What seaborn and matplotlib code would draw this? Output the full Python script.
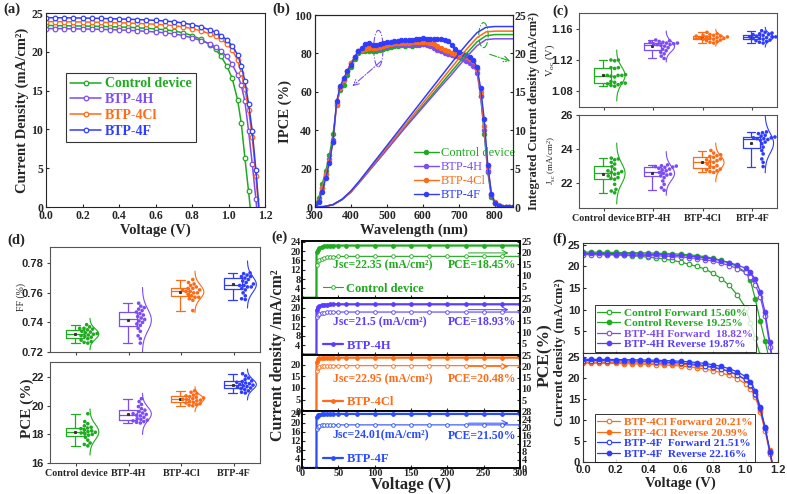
import numpy as np
import pandas as pd
import matplotlib
matplotlib.use('Agg')
import matplotlib.pyplot as plt
import seaborn as sns
from matplotlib.patches import Ellipse
import warnings
warnings.filterwarnings('ignore')

# ---------------- data ----------------
groups = ['Control device', 'BTP-4H', 'BTP-4Cl', 'BTP-4F']

# (a) J-V curves
a_volt = [0.00, 0.05, 0.10, 0.15, 0.20, 0.25, 0.30, 0.35, 0.40, 0.45, 0.50, 0.55,
          0.60, 0.65, 0.70, 0.75, 0.80, 0.85, 0.90, 0.93, 0.96, 0.99, 1.02, 1.05,
          1.07, 1.09, 1.11, 1.13, 1.15, 1.17]
a_j_ctrl = [23.40, 23.38, 23.36, 23.34, 23.32, 23.30, 23.27, 23.24, 23.20, 23.16, 23.10, 23.03,
            22.95, 22.85, 22.70, 22.45, 22.10, 21.60, 20.90, 20.30, 19.40, 18.20, 16.60, 13.80,
            10.80, 6.30, 2.00, -2.5, -7.0, -12.0]
a_j_4h = [23.00, 22.99, 22.98, 22.96, 22.94, 22.92, 22.89, 22.86, 22.82, 22.77, 22.71, 22.64,
          22.55, 22.45, 22.30, 22.10, 21.80, 21.45, 21.00, 20.60, 20.10, 19.40, 18.40, 17.00,
          15.70, 13.60, 9.80, 5.60, 1.00, -4.0]
a_j_4cl = [23.90, 23.89, 23.88, 23.86, 23.84, 23.82, 23.80, 23.77, 23.74, 23.70, 23.66, 23.61,
           23.55, 23.47, 23.37, 23.22, 23.00, 22.70, 22.30, 22.00, 21.60, 21.05, 20.25, 18.90,
           17.30, 15.20, 12.50, 9.00, 4.00, -1.5]
a_j_4f = [24.40, 24.39, 24.38, 24.37, 24.35, 24.33, 24.30, 24.27, 24.24, 24.20, 24.16, 24.11,
          24.05, 23.97, 23.87, 23.72, 23.50, 23.20, 22.80, 22.50, 22.10, 21.55, 20.80, 19.60,
          18.20, 16.20, 13.30, 9.80, 4.80, -1.0]

# (b) IPCE and integrated current
wl = [300, 310, 320, 330, 340, 350, 360, 370, 380, 390, 400, 410, 420, 430, 440, 450, 460, 470,
      480, 490, 500, 510, 520, 530, 540, 550, 560, 570, 580, 590, 600, 610, 620, 630, 640, 650,
      660, 670, 680, 690, 700, 710, 720, 730, 740, 750, 760, 770, 780, 790, 800, 810, 820, 830,
      840, 850]
ipce_ctrl = [1.0, 4.5, 12, 19, 27, 38, 53, 61, 63.5, 69, 73, 77, 80, 81, 81, 81.5, 81, 81.5,
             82, 82.5, 83, 83.5, 84, 84, 84.5, 84, 84.5, 84, 84.5, 84.5, 85, 85, 84.5, 84, 83, 82,
             81, 80, 79.5, 79, 78.5, 78, 77.5, 77, 76, 72, 58, 38, 18, 5, 2, 0.5, 0, 0,
             0, 0]
ipce_4h = [0.5, 3, 10, 17, 25, 35, 54, 62, 66, 71, 75, 78, 81, 82.5, 83, 83, 82.5, 82.5,
           83, 83.5, 84, 84.5, 85, 85, 85, 85, 85, 85, 85, 85, 85, 84.5, 84, 83, 82, 81,
           80, 79.5, 79, 78.5, 78, 77, 76, 75, 73.5, 70, 58, 40, 19, 6, 2, 0.5, 0, 0,
           0, 0]
ipce_4cl = [0.5, 3, 10, 17, 24, 34, 53, 62, 66, 71, 75, 78, 81, 82, 82.5, 83, 83, 83,
            83.5, 84, 84.5, 85, 85.5, 85.5, 85.5, 85.5, 85.5, 86, 86, 86, 86, 86, 85.5, 85, 84, 83,
            82, 81, 80, 79.5, 79.5, 79, 78, 77, 76, 72, 60, 42, 21, 7, 2.5, 1, 0, 0,
            0, 0]
ipce_4f = [0.5, 2.5, 8, 15, 23, 34, 55, 63, 67, 71, 74, 78, 81, 83, 85, 85.5, 84.5, 84.5,
           85, 85.5, 86, 86, 86.5, 86.5, 87, 87, 87, 87, 87.5, 87.5, 88, 87.5, 87.5, 87.5, 87.5, 87.5,
           87, 86.5, 84.5, 82.5, 80.5, 79.5, 79, 78, 76.5, 73, 62, 46, 22, 7, 2, 0.5, 0, 0,
           0, 0]
wl_int = [300, 325, 350, 375, 400, 425, 450, 475, 500, 525, 550, 575, 600, 625, 650, 675,
          700, 725, 750, 775, 800, 825, 850]
int_ctrl = [0, 0.05, 0.3, 0.95, 1.95, 3.3, 4.7, 6.1, 7.5, 8.95, 10.4, 11.8, 13.2, 14.6, 16.0, 17.4,
            18.8, 20.2, 21.5, 22.3, 22.45, 22.45, 22.45]
int_4h = [0, 0.05, 0.3, 0.95, 1.95, 3.3, 4.7, 6.1, 7.5, 8.9, 10.3, 11.65, 13.0, 14.35, 15.7, 17.0,
          18.4, 19.75, 21.0, 21.8, 21.9, 21.9, 21.9]
int_4cl = [0, 0.05, 0.3, 1.0, 2.0, 3.4, 4.85, 6.3, 7.75, 9.2, 10.65, 12.1, 13.55, 15.0, 16.45, 17.9,
           19.35, 20.75, 22.05, 22.8, 22.9, 22.9, 22.9]
int_4f = [0, 0.05, 0.3, 1.0, 2.1, 3.5, 5.0, 6.5, 8.0, 9.5, 11.0, 12.5, 14.0, 15.5, 17.0, 18.5,
          20.0, 21.4, 22.7, 23.4, 23.5, 23.5, 23.5]

# (c) Voc / Jsc statistics
voc = {
    'Control device': [1.120, 1.120, 1.119, 1.110, 1.110, 1.109, 1.101, 1.100, 1.100, 1.099,
                       1.100, 1.098, 1.092, 1.090, 1.090, 1.089, 1.091, 1.088, 1.086, 1.087],
    'BTP-4H': [1.146, 1.145, 1.144, 1.143, 1.143, 1.142, 1.142, 1.141, 1.141, 1.140,
               1.140, 1.139, 1.138, 1.136, 1.134, 1.132, 1.130, 1.128, 1.125, 1.122],
    'BTP-4Cl': [1.156, 1.154, 1.153, 1.152, 1.152, 1.151, 1.151, 1.150, 1.150, 1.149,
                1.149, 1.148, 1.148, 1.147, 1.147, 1.146, 1.145, 1.144, 1.143, 1.142],
    'BTP-4F': [1.158, 1.156, 1.155, 1.154, 1.153, 1.153, 1.152, 1.151, 1.150, 1.150,
               1.150, 1.149, 1.148, 1.148, 1.147, 1.146, 1.145, 1.144, 1.143, 1.142],
}
jsc = {
    'Control device': [23.45, 23.40, 23.35, 23.20, 23.10, 22.95, 22.80, 22.70, 22.65, 22.60,
                       22.55, 22.50, 22.40, 22.30, 22.25, 22.20, 21.90, 21.60, 21.50, 21.40],
    'BTP-4H': [23.05, 23.00, 22.98, 22.95, 22.92, 22.90, 22.85, 22.80, 22.75, 22.70,
               22.60, 22.55, 22.50, 22.45, 22.40, 22.30, 22.10, 21.90, 21.70, 21.55],
    'BTP-4Cl': [23.90, 23.75, 23.65, 23.60, 23.55, 23.50, 23.40, 23.35, 23.30, 23.25,
                23.20, 23.10, 23.00, 22.95, 22.90, 22.80, 22.75, 22.70, 22.65, 22.60],
    'BTP-4F': [25.00, 24.95, 24.90, 24.80, 24.75, 24.70, 24.65, 24.65, 24.60, 24.60,
               24.55, 24.50, 24.40, 24.30, 24.10, 23.90, 23.70, 23.40, 23.20, 22.95],
}
# (d) FF / PCE statistics
ff = {
    'Control device': [0.7385, 0.737, 0.736, 0.736, 0.7355, 0.735, 0.734, 0.7335, 0.733, 0.7325,
                       0.732, 0.7315, 0.731, 0.7305, 0.730, 0.729, 0.728, 0.727, 0.7265, 0.726],
    'BTP-4H': [0.753, 0.751, 0.750, 0.749, 0.748, 0.747, 0.746, 0.745, 0.744, 0.743,
               0.742, 0.741, 0.740, 0.739, 0.738, 0.736, 0.734, 0.731, 0.729, 0.726],
    'BTP-4Cl': [0.769, 0.767, 0.766, 0.765, 0.764, 0.763, 0.763, 0.762, 0.762, 0.761,
                0.761, 0.760, 0.760, 0.759, 0.758, 0.757, 0.757, 0.756, 0.755, 0.748],
    'BTP-4F': [0.7735, 0.773, 0.772, 0.771, 0.771, 0.770, 0.769, 0.768, 0.767, 0.766,
               0.765, 0.765, 0.764, 0.764, 0.763, 0.762, 0.760, 0.758, 0.756, 0.7555],
}
pce = {
    'Control device': [19.45, 18.90, 18.75, 18.60, 18.50, 18.45, 18.40, 18.30, 18.25, 18.20,
                       18.15, 18.10, 18.05, 18.00, 17.95, 17.80, 17.60, 17.40, 17.30, 17.20],
    'BTP-4H': [20.50, 20.30, 20.10, 19.95, 19.80, 19.70, 19.60, 19.50, 19.45, 19.40,
               19.35, 19.30, 19.20, 19.10, 19.05, 19.00, 18.95, 18.90, 18.85, 18.80],
    'BTP-4Cl': [21.05, 20.95, 20.85, 20.75, 20.70, 20.65, 20.60, 20.55, 20.50, 20.45,
                20.45, 20.40, 20.35, 20.30, 20.25, 20.20, 20.15, 20.10, 20.05, 20.00],
    'BTP-4F': [22.25, 22.10, 21.95, 21.85, 21.75, 21.70, 21.65, 21.60, 21.55, 21.50,
               21.45, 21.40, 21.35, 21.30, 21.25, 21.20, 21.15, 21.05, 20.95, 20.90],
}

# (e) stability traces
e_time = [0, 19.9, 20, 22, 24, 27, 30, 34, 38, 43, 50, 60, 75, 100, 125, 150, 175, 200, 225,
          250, 275, 300]
e_jsc_ctrl = [0, 0, 19.5, 20.6, 21.3, 21.8, 22.1, 22.25, 22.3, 22.35, 22.35, 22.35, 22.35,
              22.35, 22.35, 22.35, 22.35, 22.35, 22.35, 22.35, 22.35, 22.35]
e_pce_ctrl = [0, 0, 14.6, 16.2, 16.9, 17.4, 17.8, 18.0, 18.2, 18.3, 18.4, 18.45, 18.45,
              18.45, 18.45, 18.45, 18.45, 18.45, 18.45, 18.45, 18.45, 18.45]
e_jsc_4h = [0, 0, 19.0, 20.2, 20.8, 21.1, 21.3, 21.4, 21.45, 21.5, 21.5, 21.5, 21.5,
            21.5, 21.5, 21.5, 21.5, 21.5, 21.5, 21.5, 21.5, 21.5]
e_pce_4h = [0, 0, 16.5, 17.6, 18.1, 18.4, 18.6, 18.75, 18.85, 18.9, 18.93, 18.93, 18.93,
            18.93, 18.93, 18.93, 18.93, 18.93, 18.93, 18.93, 18.93, 18.93]
e_jsc_4cl = [0, 0, 21.0, 22.2, 22.6, 22.8, 22.9, 22.95, 22.95, 22.95, 22.95, 22.95, 22.95,
             22.95, 22.95, 22.95, 22.95, 22.95, 22.95, 22.95, 22.95, 22.95]
e_pce_4cl = [0, 0, 18.0, 19.4, 19.9, 20.2, 20.35, 20.45, 20.48, 20.48, 20.48, 20.48, 20.48,
             20.48, 20.48, 20.48, 20.48, 20.48, 20.48, 20.48, 20.48, 20.48]
e_jsc_4f = [0, 0, 22.5, 23.4, 23.7, 23.85, 23.95, 24.0, 24.01, 24.01, 24.01, 24.01, 24.01,
            24.01, 24.01, 24.01, 24.01, 24.01, 24.01, 24.01, 24.01, 24.01]
e_pce_4f = [0, 0, 19.3, 20.5, 21.0, 21.2, 21.35, 21.45, 21.5, 21.5, 21.5, 21.5, 21.5,
            21.5, 21.5, 21.5, 21.5, 21.5, 21.5, 21.5, 21.5, 21.5]
e_jsc_text = ['Jsc=22.35 (mA/cm²)', 'Jsc=21.5 (mA/cm²)', 'Jsc=22.95 (mA/cm²)', 'Jsc=24.01(mA/cm²)']
e_pce_text = ['PCE=18.45%', 'PCE=18.93%', 'PCE=20.48%', 'PCE=21.50%']

# (f) forward / reverse scans
f_volt = [0.00, 0.05, 0.10, 0.15, 0.20, 0.25, 0.30, 0.35, 0.40, 0.45, 0.50, 0.55, 0.60, 0.65,
          0.70, 0.75, 0.80, 0.85, 0.90, 0.95, 1.00, 1.03, 1.06, 1.09, 1.12, 1.15, 1.18]
f_ctrl_fwd = [23.0, 22.93, 22.85, 22.78, 22.70, 22.58, 22.45, 22.30, 22.15, 21.95, 21.70, 21.40,
              21.00, 20.50, 20.00, 19.40, 18.40, 17.20, 15.60, 13.40, 10.50, 7.00, 3.50, -0.5,
              -5.0, -10.0, -15.0]
f_ctrl_rev = [23.30, 23.28, 23.26, 23.24, 23.22, 23.20, 23.17, 23.14, 23.10, 23.05, 23.00, 22.92,
              22.82, 22.70, 22.50, 22.25, 21.90, 21.40, 20.80, 19.90, 18.70, 16.80, 12.50, 7.50,
              2.80, -2.0, -7.0]
f_4h_fwd = [22.70, 22.69, 22.68, 22.66, 22.64, 22.61, 22.58, 22.54, 22.50, 22.44, 22.37, 22.28,
            22.17, 22.02, 21.82, 21.55, 21.20, 20.75, 20.20, 19.50, 18.60, 17.50, 15.80, 13.00,
            8.50, 1.50, -5.0]
f_4h_rev = [23.00, 22.99, 22.98, 22.96, 22.94, 22.92, 22.89, 22.85, 22.81, 22.76, 22.70, 22.62,
            22.52, 22.39, 22.22, 22.00, 21.70, 21.30, 20.85, 20.30, 19.60, 18.70, 17.00, 14.20,
            9.50, 2.50, -5.0]
f_4cl_fwd = [23.60, 23.58, 23.56, 23.53, 23.50, 23.46, 23.42, 23.37, 23.31, 23.24, 23.15, 23.04,
             22.90, 22.72, 22.48, 22.18, 21.80, 21.30, 20.65, 19.80, 18.70, 17.50, 15.60, 12.00,
             7.50, 2.00, -4.0]
f_4cl_rev = [23.80, 23.79, 23.78, 23.76, 23.74, 23.71, 23.68, 23.64, 23.60, 23.55, 23.48, 23.40,
             23.30, 23.17, 23.00, 22.78, 22.50, 22.10, 21.55, 20.70, 19.50, 18.20, 16.00, 12.50,
             8.00, 2.80, -3.0]
f_4f_fwd = [24.20, 24.19, 24.18, 24.16, 24.14, 24.11, 24.08, 24.04, 23.99, 23.93, 23.85, 23.75,
            23.62, 23.46, 23.26, 23.00, 22.65, 22.20, 21.60, 20.80, 19.70, 18.40, 16.30, 12.80,
            8.20, 2.50, -3.5]
f_4f_rev = [24.50, 24.49, 24.48, 24.46, 24.44, 24.42, 24.39, 24.36, 24.32, 24.27, 24.21, 24.13,
            24.03, 23.90, 23.73, 23.50, 23.20, 22.80, 22.25, 21.50, 20.40, 19.10, 17.00, 13.20,
            8.40, 2.50, -3.5]
f_top_labels = ['Control Forward 15.60%', 'Control Reverse 19.25%',
                'BTP-4H Forward  18.82%', 'BTP-4H Reverse 19.87%']
f_bot_labels = ['BTP-4Cl Forward 20.21%', 'BTP-4Cl Reverse 20.99%',
                'BTP-4F  Forward 21.51%', 'BTP-4F  Reverse 22.16%']

# ---------------- style ----------------
GREEN = '#1faa1f'
PURPLE = '#7d4cf5'
ORANGE = '#ff6a16'
BLUE = '#2f3cff'
colors = [GREEN, PURPLE, ORANGE, BLUE]
SERIF = 'Liberation Serif'
SANS = 'Liberation Sans'

sns.set_style('ticks')
plt.rcParams['font.family'] = [SERIF, 'DejaVu Serif']
plt.rcParams['mathtext.fontset'] = 'custom'
plt.rcParams['mathtext.rm'] = SERIF
plt.rcParams['mathtext.it'] = SERIF + ':italic'
plt.rcParams['mathtext.bf'] = SERIF + ':bold'
plt.rcParams['mathtext.default'] = 'regular'
plt.rcParams['xtick.direction'] = 'in'
plt.rcParams['ytick.direction'] = 'in'
plt.rcParams['xtick.major.size'] = 2.5
plt.rcParams['ytick.major.size'] = 2.5

W, H = 787, 494
fig = plt.figure(figsize=(W / 100, H / 100), dpi=100)


def px_axes(x0, y0, x1, y1):
    return fig.add_axes([x0 / W, 1 - y1 / H, (x1 - x0) / W, (y1 - y0) / H])


def ticks(ax, xt=None, xl=None, yt=None, yl=None, family=SERIF, size=8, weight='bold'):
    if xt is not None:
        ax.set_xticks(xt, xl if xl is not None else [str(v) for v in xt],
                      fontfamily=family, fontsize=size, fontweight=weight)
    if yt is not None:
        ax.set_yticks(yt, yl if yl is not None else [str(v) for v in yt],
                      fontfamily=family, fontsize=size, fontweight=weight)
    ax.tick_params(pad=2)


def fig_label(x, y, s, size, weight='bold', rot=0, ha='center'):
    fig.text(x / W, 1 - y / H, s, fontsize=size, fontweight=weight, family=SERIF,
             rotation=rot, ha=ha, va='center')


def panel_label(x, y, s):
    fig_label(x, y, s, 10.5, ha='left')


# ---------------- (a) ----------------
ax = px_axes(46, 13, 265, 207)
for name, j, c in zip(groups, [a_j_ctrl, a_j_4h, a_j_4cl, a_j_4f], colors):
    sns.lineplot(x=a_volt, y=j, ax=ax, color=c, lw=1.1, marker='o', ms=3.3, mec=c,
                 mfc='white', mew=0.9, label=name, sort=False)
ax.set_xlim(0, 1.2)
ax.set_ylim(0, 25)
ticks(ax, [0, 0.2, 0.4, 0.6, 0.8, 1.0, 1.2], ['0.0', '0.2', '0.4', '0.6', '0.8', '1.0', '1.2'],
      [0, 5, 10, 15, 20, 25], size=8.5)
ax.set_xlabel('Voltage (V)', fontsize=10.5, fontweight='bold', labelpad=1)
ax.set_ylabel('Current Density (mA/cm²)', fontsize=10.5, fontweight='bold', labelpad=2)
leg = ax.legend(loc='upper left', bbox_to_anchor=(0.06, 0.725), frameon=True, fancybox=False,
                edgecolor='black', prop={'family': SERIF, 'weight': 'bold', 'size': 10},
                handlelength=2.2, borderpad=0.3, labelspacing=0.2, handletextpad=0.3)
leg.get_frame().set_linewidth(0.8)
for t, c in zip(leg.get_texts(), colors):
    t.set_color(c)
panel_label(3, 9, '(a)')

# ---------------- (b) ----------------
ax = px_axes(315, 15, 513, 207)
for name, y, c in zip(groups, [ipce_ctrl, ipce_4h, ipce_4cl, ipce_4f], colors):
    sns.lineplot(x=wl, y=y, ax=ax, color=c, lw=1.0, marker='o', ms=3.2, mec=c, mfc=c,
                 label=name, sort=False)
ax.set_xlim(300, 850)
ax.set_ylim(0, 100)
ticks(ax, [300, 400, 500, 600, 700, 800], None, [0, 20, 40, 60, 80, 100], size=8.5)
ax.set_xlabel('Wavelength (nm)', fontsize=10.5, fontweight='bold', labelpad=1)
ax.set_ylabel('IPCE (%)', fontsize=10.5, fontweight='bold', labelpad=2)
leg = ax.legend(loc='upper left', bbox_to_anchor=(0.46, 0.35), frameon=False,
                prop={'family': SERIF, 'size': 9}, handlelength=2.0, borderpad=0.1,
                labelspacing=0.15, handletextpad=0.2)
for t, c in zip(leg.get_texts(), colors):
    t.set_color(c)
ax.add_patch(Ellipse((476, 82.5), 26, 19, fill=False, ls='-.', ec=PURPLE, lw=0.8))
ax.annotate('', xy=(398, 62), xytext=(490, 77),
            arrowprops=dict(arrowstyle='->', ls='-.', color=PURPLE, lw=0.8))
ax.add_patch(Ellipse((768, 89.5), 26, 13, fill=False, ls='-.', ec=GREEN, lw=0.8))
ax.annotate('', xy=(850, 75.5), xytext=(778, 80),
            arrowprops=dict(arrowstyle='->', ls='-.', color=GREEN, lw=0.8))
ax2 = ax.twinx()
for y, c in zip([int_ctrl, int_4h, int_4cl, int_4f], colors):
    sns.lineplot(x=wl_int, y=y, ax=ax2, color=c, lw=1.1, sort=False)
ax2.set_ylim(0, 25)
ticks(ax2, None, None, [0, 5, 10, 15, 20, 25], size=8.5)
ax2.tick_params(pad=1)
ax2.set_ylabel('Integrated Current density (mA/cm²)', fontsize=9, fontweight='bold',
               labelpad=1)
panel_label(272, 9, '(b)')

# ---------------- box panels (c), (d) ----------------
def box_panel(ax, stats, ylim, yt, yl, show_labels):
    rows = []
    for i, g in enumerate(groups):
        for v in stats[g]:
            rows.append((g, i, v))
    df = pd.DataFrame(rows, columns=['group', 'idx', 'val'])
    df['bx'] = df['idx'] - 0.02
    df['sx'] = df['idx'] + 0.22
    pal = dict(zip(groups, colors))
    sns.boxplot(data=df, x='bx', y='val', hue='group', palette=pal, native_scale=True,
                dodge=False, fill=False, width=0.34, linewidth=0.9, whis=(0, 100),
                showfliers=False, showmeans=True,
                meanprops=dict(marker='s', markersize=1.2, markerfacecolor='#333333',
                               markeredgecolor='#333333'),
                legend=False, ax=ax)
    sns.swarmplot(data=df, x='sx', y='val', hue='group', palette=pal, native_scale=True,
                  dodge=False, size=2.6, legend=False, ax=ax)
    for i, g in enumerate(groups):
        m, s = np.mean(stats[g]), np.std(stats[g])
        yy = np.linspace(m - 3 * s, m + 3 * s, 80)
        xx = i + 0.26 + 0.17 * np.exp(-0.5 * ((yy - m) / s) ** 2)
        ax.plot(xx, yy, color=colors[i], lw=0.8)
    ax.set_xlim(-0.5, 3.5)
    ax.set_ylim(*ylim)
    ax.set_xlabel('')
    ax.set_ylabel('')
    ticks(ax, None, None, yt, yl, family=SANS, size=8)
    if show_labels:
        ax.set_xticks(range(4), groups, fontfamily=SERIF, fontsize=7.2, fontweight='bold')
    else:
        ax.set_xticks(range(4), ['', '', '', ''])
    ax.tick_params(direction='out', length=2.5, color='#444444')
    for sp in ax.spines.values():
        sp.set_color('#555555')
        sp.set_linewidth(0.8)


ax = px_axes(579, 13, 777, 107)
box_panel(ax, voc, (1.059, 1.181), [1.08, 1.12, 1.16], ['1.08', '1.12', '1.16'], False)
fig_label(550, 60, 'V$_{oc}$ (V)', 7.5, weight='normal', rot=90)
ax = px_axes(579, 115, 777, 208)
box_panel(ax, jsc, (20.5, 26), [22, 24, 26], ['22', '24', '26'], True)
fig_label(552, 160, 'J$_{sc}$ (mA/cm$^{2}$)', 6.5, weight='normal', rot=90)
panel_label(552, 11, '(c)')

ax = px_axes(50, 247, 260, 352)
box_panel(ax, ff, (0.72, 0.791), [0.72, 0.74, 0.76, 0.78], ['0.72', '0.74', '0.76', '0.78'], False)
fig_label(21, 297, 'FF (%)', 7, weight='normal', rot=90)
ax = px_axes(50, 362, 260, 463)
box_panel(ax, pce, (16, 23.07), [16, 18, 20, 22], ['16', '18', '20', '22'], True)
fig_label(27, 408, 'PCE (%)', 11, rot=90)
panel_label(7, 240, '(d)')

# ---------------- (e) ----------------
e_sets = [
    (e_jsc_ctrl, e_pce_ctrl, GREEN, 'Control device', True,
     (0, 24.3), [4, 8, 12, 16, 20, 24], (0, 25.3), [5, 10, 15, 20, 25]),
    (e_jsc_4h, e_pce_4h, '#5a3dff', 'BTP-4H', False,
     (0, 24.3), [4, 8, 12, 16, 20, 24], (0, 25.3), [5, 10, 15, 20, 25]),
    (e_jsc_4cl, e_pce_4cl, ORANGE, 'BTP-4Cl', False,
     (0, 24.3), [0, 5, 10, 15, 20], (0, 25.5), [5, 10, 15, 20, 25]),
    (e_jsc_4f, e_pce_4f, '#2a4bff', 'BTP-4F', False,
     (0, 25.2), [0, 4, 8, 12, 16, 20, 24], (0, 28.3), [0, 4, 8, 12, 16, 20, 24, 28]),
]
e_top, e_h = 241, 56.75
for k, (jv, pv, c, name, open_leg, yl1, yt1, yl2, yt2) in enumerate(e_sets):
    ax = px_axes(302, e_top + k * e_h, 520, e_top + (k + 1) * e_h)
    sns.lineplot(x=e_time, y=jv, ax=ax, color=c, lw=1.6, marker='o', ms=2.6, mec=c,
                 mfc=c, sort=False)
    ax.set_xlim(0, 300)
    ax.set_ylim(*yl1)
    ticks(ax, [0, 50, 100, 150, 200, 250, 300], None, yt1, None, size=7.5)
    if k < 3:
        ax.set_xticklabels([])
    ax2 = ax.twinx()
    sns.lineplot(x=e_time, y=pv, ax=ax2, color=c, lw=0.8, marker='o', ms=2.6, mec=c,
                 mfc='white', mew=0.6, sort=False)
    ax2.set_ylim(*yl2)
    ticks(ax2, None, None, yt2, None, size=7.5)
    ax2.tick_params(pad=1)
    ax.tick_params(pad=1)
    for a in (ax, ax2):
        for sp in a.spines.values():
            sp.set_linewidth(1.1)
            sp.set_color('black')
    h = ax2.get_lines()[0] if open_leg else ax.get_lines()[0]
    lg = ax.legend([h], [name], loc='lower left', bbox_to_anchor=(0.06, -0.08), frameon=False,
                   prop={'family': SERIF, 'weight': 'bold', 'size': 9}, handlelength=1.6,
                   handletextpad=0.3, borderpad=0.1)
    lg.get_texts()[0].set_color(c)
    ax.text(0.14, 0.57, e_jsc_text[k], transform=ax.transAxes, color=c, fontsize=8.5,
            fontweight='bold', family=SERIF, ha='left', va='center')
    ax.text(0.985, 0.57, e_pce_text[k], transform=ax.transAxes, color=c, fontsize=8.5,
            fontweight='bold', family=SERIF, ha='right', va='center')
    ax.annotate('', xy=(0.96, 0.79), xytext=(0.75, 0.79), xycoords='axes fraction',
                arrowprops=dict(arrowstyle='->', color=c, lw=0.7))
ax.set_xlabel('Voltage (V)', fontsize=12, fontweight='bold', labelpad=-1)
fig_label(278, 355, 'Current density /mA/cm²', 11.5, rot=90)
fig_label(545, 355, 'PCE(%)', 12.5, rot=90)
panel_label(271, 237, '(e)')

# ---------------- (f) ----------------
def jv_panel(ax, curves, labels, ylim, yt):
    for (y, c, filled), lab in zip(curves, labels):
        sns.lineplot(x=f_volt, y=y, ax=ax, color=c, lw=0.9, marker='o', ms=3.3, mec=c,
                     mfc=c if filled else 'white', mew=0.8, label=lab, sort=False)
    ax.set_xlim(0, 1.2)
    ax.set_ylim(*ylim)
    ticks(ax, [0, 0.2, 0.4, 0.6, 0.8, 1.0, 1.2], ['0.0', '0.2', '0.4', '0.6', '0.8', '1.0', '1.2'],
          yt, None, family=SANS, size=8)
    lg = ax.legend(loc='upper left', bbox_to_anchor=(0.03, 0.49), frameon=True, fancybox=False,
                   edgecolor='black', prop={'family': SERIF, 'weight': 'bold', 'size': 8.2},
                   handlelength=2.0, borderpad=0.25, labelspacing=0.05, handletextpad=0.3)
    lg.get_frame().set_linewidth(0.7)
    for t, (y, c, filled) in zip(lg.get_texts(), curves):
        t.set_color(c)
    for sp in ax.spines.values():
        sp.set_color('#333333')


ax = px_axes(583, 243, 778, 353)
jv_panel(ax, [(f_ctrl_fwd, GREEN, False), (f_ctrl_rev, GREEN, True),
              (f_4h_fwd, PURPLE, False), (f_4h_rev, '#5a3dff', True)],
         f_top_labels, (0, 25.4), [5, 10, 15, 20, 25])
ax.set_xticklabels([])
ax = px_axes(583, 353, 778, 462)
jv_panel(ax, [(f_4cl_fwd, ORANGE, False), (f_4cl_rev, ORANGE, True),
              (f_4f_fwd, BLUE, False), (f_4f_rev, BLUE, True)],
         f_bot_labels, (0, 26), [0, 5, 10, 15, 20, 25])
ax.set_xlabel('Voltage (V)', fontsize=10.5, fontweight='bold', labelpad=1)
fig_label(560, 352, 'Current density (mA/cm²)', 9.5, rot=90)
panel_label(552, 239, '(f)')

fig.savefig('out.png', dpi=100)
